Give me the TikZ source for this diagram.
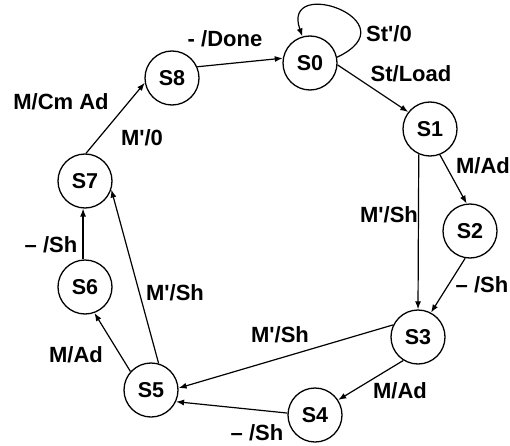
\documentclass[tikz,border=0pt]{standalone}
\usepackage{fontspec}
\setmainfont{Liberation Sans}
\usetikzlibrary{arrows.meta}
\newcommand{\tick}{\textquotesingle}
\begin{document}
\begin{tikzpicture}[x=1pt,y=1pt,
  state/.style={circle,draw,line width=1.3pt,minimum size=54pt,inner sep=0pt,
    font=\fontsize{21.5}{21.5}\selectfont\bfseries},
  edge/.style={line width=1.2pt,-{Latex[length=8pt,width=6pt]}},
  lbl/.style={anchor=base,inner sep=0pt,font=\fontsize{22}{22}\selectfont\bfseries}]
\useasboundingbox (0,0) rectangle (510,445);

% states
\node[state] (S0) at (310,382) {S0};
\node[state] (S8) at (172,367) {S8};
\node[state] (S1) at (430,316) {S1};
\node[state] (S7) at (85,264) {S7};
\node[state] (S2) at (470,214) {S2};
\node[state] (S6) at (85,158) {S6};
\node[state] (S3) at (418,108) {S3};
\node[state] (S5) at (151,55) {S5};
\node[state] (S4) at (315,30) {S4};

% transitions
\draw[edge] (S0.12) .. controls +(76,36) and +(-22,62) .. (S0.106);
\draw[edge] (S0.-4) -- (S1.142);
\draw[edge] (S1.-69) -- (S2.97);
\draw[edge] (S1.-114) -- (S3.north);
\draw[edge] (S2.-100) -- (S3.62);
\draw[edge] (S3.-122) -- (S4.33);
\draw[edge] (S3.154) -- (S5.4);
\draw[edge] (S4.176) -- (S5.-25);
\draw[edge] (S5.138) -- (S6.-70);
\draw[edge] (S5.74) -- (S7.-18);
\draw[edge] (S6.94) -- (S7.-94);
\draw[edge] (S7.88) -- (S8.-170);
\draw[edge] (S8.24) -- (S0.170);

% transition labels
\node[lbl] (l80) at (225,398) {- /Done};
\node[lbl] (l00) at (389,403) {St\tick/0};
\node[lbl] (l01) at (411,363) {St/Load};
\node[lbl] (l78a) at (61,335) {M/Cm Ad};
\node[lbl] (l78b) at (142,300) {M\tick/0};
\node[lbl] (l12) at (483,272) {M/Ad};
\node[lbl] (l13) at (389,223) {M\tick/Sh};
\node[lbl] (l23) at (482,153) {– /Sh};
\node[lbl] (l67) at (51,193) {– /Sh};
\node[lbl] (l57) at (175,145) {M\tick/Sh};
\node[lbl] (l35) at (280,103) {M\tick/Sh};
\node[lbl] (l56) at (76,83) {M/Ad};
\node[lbl] (l34) at (400,47) {M/Ad};
\node[lbl] (l45) at (257,5) {– /Sh};
\end{tikzpicture}
\end{document}
